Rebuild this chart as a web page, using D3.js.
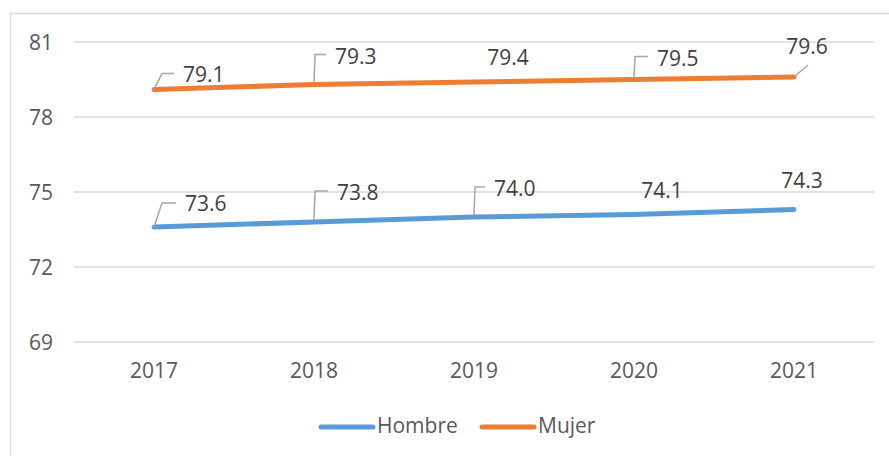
<!DOCTYPE html>
<html>
<head>
<meta charset="utf-8">
<script src="https://cdn.jsdelivr.net/npm/d3@7"></script>
<style>
  body { margin: 0; background: #fff; }
  text { font-family: "Open Sans", sans-serif; }
</style>
</head>
<body>
<svg id="chart" width="889" height="456"></svg>
<script>
// Esperanza de vida por sexo, 2017-2021

const years = ['2017', '2018', '2019', '2020', '2021'];
const hombre = [73.6, 73.8, 74.0, 74.1, 74.3];
const mujer = [79.1, 79.3, 79.4, 79.5, 79.6];
const yTicks = [69, 72, 75, 78, 81];

// label placement per point: offset of text from point, leader style
const hombreLabels = [
    { dx: 31, dy: -23, leader: 'diag' },
    { dx: 23, dy: -29, leader: 'vert' },
    { dx: 20, dy: -28, leader: 'vert' },
    { dx: 28, dy: -24, leader: 'none', anchor: 'middle' },
    { dx: 8, dy: -29, leader: 'none', anchor: 'middle' }
];
const mujerLabels = [
    { dx: 29, dy: -15, leader: 'diag' },
    { dx: 21, dy: -28, leader: 'vert' },
    { dx: 34, dy: -24, leader: 'none', anchor: 'middle' },
    { dx: 23, dy: -21, leader: 'vert' },
    { dx: 13, dy: -30, leader: 'diag2', anchor: 'middle' }
];

const svg = d3.select('#chart');
const width = +svg.attr('width');
const height = +svg.attr('height');
const fontSize = '21px';

// chart frame
svg.append('rect')
    .attr('x', 10.5).attr('y', 13.5)
    .attr('width', width + 10).attr('height', height + 10)
    .attr('fill', 'none')
    .attr('stroke', '#d9d9d9')
    .attr('stroke-width', 1.5);

const x = d3.scaleBand().domain(years).range([74, 874]);
const y = d3.scaleLinear().domain([69, 81]).range([342, 42]);
const cx = d => x(d) + x.bandwidth() / 2;

// gridlines
svg.append('g')
    .selectAll('line')
    .data(yTicks)
    .enter()
    .append('line')
    .attr('x1', 74).attr('x2', 874)
    .attr('y1', d => y(d)).attr('y2', d => y(d))
    .attr('stroke', '#d9d9d9')
    .attr('stroke-width', 1.5);

// y axis labels
const yAxis = d3.axisLeft(y).tickValues(yTicks).tickSize(0).tickPadding(0);
svg.append('g')
    .attr('transform', 'translate(53,1)')
    .call(yAxis)
    .call(g => g.select('.domain').remove())
    .call(g => g.selectAll('text')
        .attr('fill', '#595959')
        .style('font-size', fontSize)
        .style('font-family', '"Open Sans", sans-serif'));

// x axis labels
const xAxis = d3.axisBottom(x).tickSize(0).tickPadding(0);
svg.append('g')
    .attr('transform', 'translate(0,363)')
    .call(xAxis)
    .call(g => g.select('.domain').remove())
    .call(g => g.selectAll('text')
        .attr('fill', '#595959')
        .style('font-size', fontSize)
        .style('font-family', '"Open Sans", sans-serif'));

const line = d3.line()
    .x((d, i) => cx(years[i]))
    .y(d => y(d));

const series = [
    { name: 'Hombre', values: hombre, color: '#5b9bd5', labels: hombreLabels },
    { name: 'Mujer', values: mujer, color: '#ed7d31', labels: mujerLabels }
];

series.forEach(s => {
    svg.append('path')
        .datum(s.values)
        .attr('d', line)
        .attr('fill', 'none')
        .attr('stroke', s.color)
        .attr('stroke-width', 5)
        .attr('stroke-linecap', 'round');

    const lg = svg.append('g');
    s.values.forEach((v, i) => {
        const px = cx(years[i]);
        const py = y(v);
        const lab = s.labels[i];
        const tx = px + lab.dx;
        const ty = py + lab.dy;
        if (lab.leader === 'diag') {
            lg.append('path')
                .attr('d', `M${px},${py} L${px + 8},${ty - 1} L${tx - 9},${ty - 1}`)
                .attr('fill', 'none').attr('stroke', '#a6a6a6').attr('stroke-width', 1.5);
        } else if (lab.leader === 'vert') {
            lg.append('path')
                .attr('d', `M${px},${py - 2} L${px + 1},${ty - 2} L${tx - 9},${ty - 2}`)
                .attr('fill', 'none').attr('stroke', '#a6a6a6').attr('stroke-width', 1.5);
        } else if (lab.leader === 'diag2') {
            lg.append('path')
                .attr('d', `M${px},${py} L${px + 14},${py - 12}`)
                .attr('fill', 'none').attr('stroke', '#a6a6a6').attr('stroke-width', 1.5);
        }
        lg.append('text')
            .attr('x', tx)
            .attr('y', ty)
            .attr('dy', '0.35em')
            .attr('text-anchor', lab.anchor || 'start')
            .attr('fill', '#404040')
            .style('font-size', fontSize)
            .text(v.toFixed(1));
    });
});

// legend
const legendPos = [321, 482];
const legend = svg.append('g');
series.forEach((s, i) => {
    legend.append('line')
        .attr('x1', legendPos[i]).attr('x2', legendPos[i] + 52)
        .attr('y1', 427).attr('y2', 427)
        .attr('stroke', s.color)
        .attr('stroke-width', 5)
        .attr('stroke-linecap', 'round');
    legend.append('text')
        .attr('x', legendPos[i] + 56)
        .attr('y', 426)
        .attr('dy', '0.35em')
        .attr('fill', '#595959')
        .style('font-size', fontSize)
        .text(s.name);
});
</script>
</body>
</html>
